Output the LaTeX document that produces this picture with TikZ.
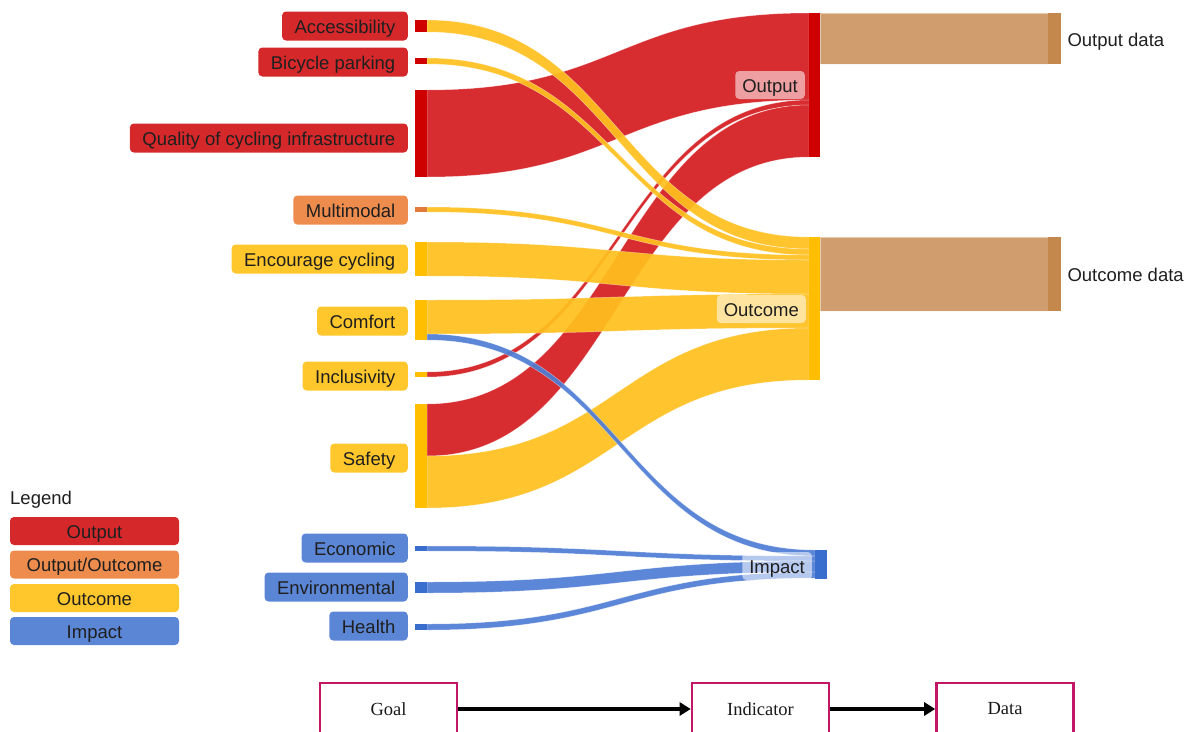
\documentclass[tikz,border=0pt]{standalone}
\usepackage{fontspec}
\setsansfont{Liberation Sans}
\newfontfamily\chainfont{Liberation Serif}
\usetikzlibrary{arrows.meta}

\definecolor{boxred}{RGB}{213,40,43}
\definecolor{boxorange}{RGB}{238,140,78}
\definecolor{boxyellow}{RGB}{255,199,44}
\definecolor{boxblue}{RGB}{91,134,214}
\definecolor{barred}{RGB}{206,0,0}
\definecolor{barorange}{RGB}{226,122,58}
\definecolor{baryellow}{RGB}{255,190,0}
\definecolor{barblue}{RGB}{58,110,206}
\definecolor{bartan}{RGB}{196,136,76}
\definecolor{flowred}{RGB}{212,28,32}
\definecolor{flowyellow}{RGB}{255,192,30}
\definecolor{flowblue}{RGB}{80,125,212}
\definecolor{flowtan}{RGB}{204,150,100}
\definecolor{frameberry}{RGB}{194,22,104}

% one sankey link: x0, top0, bottom0, x1, top1, bottom1, colour
\newcommand{\sankeyband}[7]{%
    \pgfmathsetmacro{\bandmid}{(#1+#4)/2}%
    \fill[#7, fill opacity=0.93, draw=white, draw opacity=0.45, line width=0.5]
        (#1,#2) .. controls (\bandmid,#2) and (\bandmid,#5) .. (#4,#5)
        -- (#4,#6) .. controls (\bandmid,#6) and (\bandmid,#3) .. (#1,#3)
        -- cycle;}

\begin{document}
\begin{tikzpicture}[
    x=1pt, y=-1pt,
    sankey text/.style={font=\sffamily\fontsize{18.5}{22}\selectfont,
        text=black!88, text height=14.6pt, text depth=0.6pt},
    goal label/.style={sankey text, rounded corners=4pt, minimum height=29,
        inner xsep=12.5, inner ysep=0pt, anchor=east},
    level label/.style={sankey text, rounded corners=4pt, fill=white,
        fill opacity=0.55, text opacity=1, minimum height=28, inner xsep=7,
        inner ysep=0pt, anchor=east},
    legend key/.style={sankey text, rounded corners=4pt, minimum width=169,
        minimum height=28, inner sep=0pt},
    chain box/.style={draw=frameberry, line width=2.6, minimum width=137,
        minimum height=52, font=\chainfont\fontsize{18.5}{21}\selectfont,
        text=black!90},
    chain arrow/.style={line width=3.4, -{Triangle[length=11, width=13]}}
]
    \clip (0,0) rectangle (1196,731);

    % Links into Output, Outcome and Impact.
    \sankeyband{427}{90}{177}{809}{13}{100}{flowred}
    \sankeyband{427}{372}{377}{809}{100}{105}{flowred}
    \sankeyband{427}{404}{456}{809}{105}{157}{flowred}
    \sankeyband{427}{20}{32}{809}{237}{249}{flowyellow}
    \sankeyband{427}{58}{64}{809}{249}{255}{flowyellow}
    \sankeyband{427}{207}{212}{809}{255}{260}{flowyellow}
    \sankeyband{427}{242}{276}{809}{260}{294}{flowyellow}
    \sankeyband{427}{300}{334}{809}{294}{328}{flowyellow}
    \sankeyband{427}{456}{508}{809}{328}{380}{flowyellow}
    \sankeyband{427}{334}{340}{815}{550}{556}{flowblue}
    \sankeyband{427}{546}{551}{815}{556}{561}{flowblue}
    \sankeyband{427}{582}{593}{815}{561}{572}{flowblue}
    \sankeyband{427}{624}{630}{815}{572}{578}{flowblue}

    % Links into the data columns.
    \sankeyband{820}{13}{64}{1048}{13}{64}{flowtan}
    \sankeyband{820}{237}{311}{1048}{237}{311}{flowtan}

    % Node bars.
    \fill[barred] (415,20) rectangle (427,32);
    \fill[barred] (415,58) rectangle (427,64);
    \fill[barred] (415,90) rectangle (427,177);
    \fill[barorange] (415,207) rectangle (427,212);
    \fill[baryellow] (415,242) rectangle (427,276);
    \fill[baryellow] (415,300) rectangle (427,340);
    \fill[baryellow] (415,372) rectangle (427,377);
    \fill[baryellow] (415,404) rectangle (427,508);
    \fill[barblue] (415,546) rectangle (427,551);
    \fill[barblue] (415,582) rectangle (427,593);
    \fill[barblue] (415,624) rectangle (427,630);
    \fill[barred] (809,13) rectangle (820,157);
    \fill[baryellow] (809,237) rectangle (820,380);
    \fill[barblue] (815,550) rectangle (827,579);
    \fill[bartan] (1048,13) rectangle (1061,64);
    \fill[bartan] (1048,237) rectangle (1061,311);

    % Goal labels.
    \node[goal label, fill=boxred] (acc) at (408,26) {Accessibility};
    \node[goal label, fill=boxred] (park) at (408,62) {Bicycle parking};
    \node[goal label, fill=boxred] (qual) at (408,138)
        {Quality of cycling infrastructure};
    \node[goal label, fill=boxorange] (multi) at (408,210) {Multimodal};
    \node[goal label, fill=boxyellow] (enc) at (408,259) {Encourage cycling};
    \node[goal label, fill=boxyellow] (comf) at (408,321) {Comfort};
    \node[goal label, fill=boxyellow] (incl) at (408,376) {Inclusivity};
    \node[goal label, fill=boxyellow] (safe) at (408,458) {Safety};
    \node[goal label, fill=boxblue] (econ) at (408,548) {Economic};
    \node[goal label, fill=boxblue] (envi) at (408,587) {Environmental};
    \node[goal label, fill=boxblue] (hlth) at (408,626) {Health};

    % Indicator levels and data.
    \node[level label] (output) at (805,85) {Output};
    \node[level label] (outcome) at (806,309) {Outcome};
    \node[level label] (impact) at (812,566) {Impact};
    \node[sankey text, anchor=west] (outdata) at (1064,39) {Output data};
    \node[sankey text, anchor=west] (outcdata) at (1064,274) {Outcome data};

    % Legend.
    \node[sankey text, anchor=west, inner xsep=0pt] (legend) at (10,497)
        {Legend};
    \node[legend key, fill=boxred] (keyout) at (94.5,531) {Output};
    \node[legend key, fill=boxorange] (keyoo) at (94.5,564.5)
        {Output/Outcome};
    \node[legend key, fill=boxyellow] (keyoc) at (94.5,598) {Outcome};
    \node[legend key, fill=boxblue] (keyimp) at (94.5,631) {Impact};

    % Goal -> Indicator -> Data.
    \node[chain box] (goal) at (388.5,709) {Goal};
    \node[chain box] (indicator) at (760.5,709) {Indicator};
    \node[chain box] (data) at (1005,709) {Data};
    \draw[chain arrow] (goal) -- (indicator);
    \draw[chain arrow] (indicator) -- (data);
\end{tikzpicture}
\end{document}
